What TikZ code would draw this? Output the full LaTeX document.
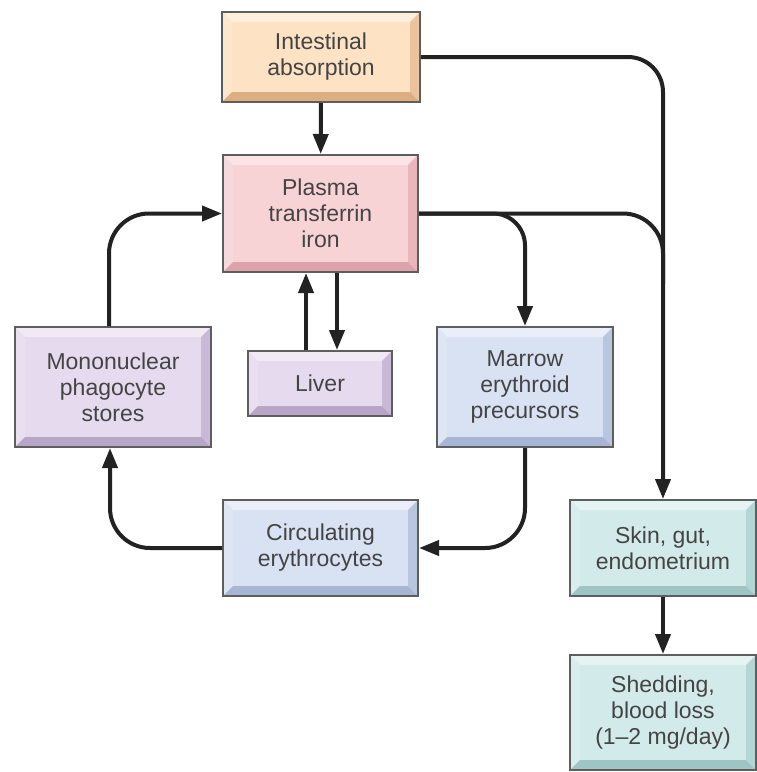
\documentclass[tikz,border=0pt]{standalone}
\usepackage{fontspec}
\setmainfont{Liberation Sans}
\usepackage{tikz}
\usetikzlibrary{arrows.meta}
\definecolor{boxline}{HTML}{5E5E5E}
\definecolor{boxtext}{HTML}{444444}
\definecolor{flowline}{HTML}{222222}
% face / top / left / right / bottom of each bevelled box
\definecolor{orangeface}{HTML}{FDE2C4}\definecolor{orangetop}{HTML}{FEEEDC}
\definecolor{orangeleft}{HTML}{FBE6CE}\definecolor{orangeside}{HTML}{EBC49E}
\definecolor{orangebottom}{HTML}{DDAE80}
\definecolor{pinkface}{HTML}{F8D3D6}\definecolor{pinktop}{HTML}{FCE4E6}
\definecolor{pinkleft}{HTML}{F6D9DC}\definecolor{pinkside}{HTML}{E8B6BB}
\definecolor{pinkbottom}{HTML}{DCA3AA}
\definecolor{purpleface}{HTML}{E6DAEE}\definecolor{purpletop}{HTML}{F1EAF5}
\definecolor{purpleleft}{HTML}{E9DFF0}\definecolor{purpleside}{HTML}{C9B9D7}
\definecolor{purplebottom}{HTML}{B8A6C8}
\definecolor{blueface}{HTML}{D9E2F3}\definecolor{bluetop}{HTML}{E9EEF8}
\definecolor{blueleft}{HTML}{DEE6F4}\definecolor{blueside}{HTML}{B8C6E0}
\definecolor{bluebottom}{HTML}{A7B6D5}
\definecolor{tealface}{HTML}{D3EAEA}\definecolor{tealtop}{HTML}{E5F3F3}
\definecolor{tealleft}{HTML}{D8EDED}\definecolor{tealside}{HTML}{B3D5D4}
\definecolor{tealbottom}{HTML}{9EC5C4}
\tikzset{
  box_node/.style = {align=center, inner sep=0pt, text centered,
    draw=boxline, line width=2pt, text=boxtext,
    font=\fontsize{23}{26}\selectfont},% boite de base
  bevel/.style = {fill=#1face, path picture={
      \def\pb{path picture bounding box}
      \fill[#1top] (\pb.north west) -- (\pb.north east)
        -- ([shift={(-10pt,-10pt)}]\pb.north east)
        -- ([shift={(10pt,-10pt)}]\pb.north west) -- cycle;
      \fill[#1left] (\pb.north west) -- ([shift={(10pt,-10pt)}]\pb.north west)
        -- ([shift={(10pt,10pt)}]\pb.south west) -- (\pb.south west) -- cycle;
      \fill[#1side] (\pb.north east) -- (\pb.south east)
        -- ([shift={(-10pt,10pt)}]\pb.south east)
        -- ([shift={(-10pt,-10pt)}]\pb.north east) -- cycle;
      \fill[#1bottom] (\pb.south west) -- (\pb.south east)
        -- ([shift={(-10pt,10pt)}]\pb.south east)
        -- ([shift={(10pt,10pt)}]\pb.south west) -- cycle;
    }},% relief de la boite
  link/.style = {line width=4pt, draw=flowline},% trait simple
  flow/.style = {link, -{Triangle[length=20pt,width=15pt]}}% trait avec fleche
}

\begin{document}
\begin{tikzpicture}[x=1pt, y=-1pt]
    \useasboundingbox (0,0) rectangle (756,772);
    \node [box_node, bevel=orange, minimum width=198pt, minimum height=90pt]
      (intestinal) at (321,57) {Intestinal\\absorption};
    \node [box_node, bevel=pink, minimum width=195pt, minimum height=117pt]
      (plasma) at (320.5,213.5) {Plasma\\transferrin\\iron};
    \node [box_node, bevel=purple, minimum width=196pt, minimum height=120pt]
      (mono) at (113,387) {Mononuclear\\phagocyte\\stores};
    \node [box_node, bevel=purple, minimum width=144pt, minimum height=65pt]
      (liver) at (320,383.5) {Liver};
    \node [box_node, bevel=blue, minimum width=176pt, minimum height=120pt]
      (marrow) at (525,387) {Marrow\\erythroid\\precursors};
    \node [box_node, bevel=blue, minimum width=195pt, minimum height=96pt]
      (circ) at (320.5,548) {Circulating\\erythrocytes};
    \node [box_node, bevel=teal, minimum width=186pt, minimum height=96pt]
      (skin) at (663,548) {Skin, gut,\\endometrium};
    \node [box_node, bevel=teal, minimum width=186pt, minimum height=115pt]
      (shedding) at (663,712.5) {Shedding,\\blood loss\\(1--2 mg/day)};

    \coordinate (merge) at ([yshift=-70pt]skin.north |- plasma.east);

    \draw [flow] (intestinal) -- (plasma);
    \draw [flow, rounded corners=35pt] (intestinal.east) -| (skin.north);
    \draw [link, rounded corners=40pt] (plasma.east) -| (merge);
    \draw [flow, rounded corners=32pt] (plasma.east) -| (marrow.north);
    \draw [flow] ([xshift=-14pt]liver.north) -- ([xshift=-14pt]liver.north |- plasma.south);
    \draw [flow] ([xshift=17pt]liver.north |- plasma.south) -- ([xshift=17pt]liver.north);
    \draw [flow, rounded corners=40pt] ([xshift=-4pt]mono.north) |- (plasma.west);
    \draw [flow, rounded corners=40pt] (marrow.south) |- (circ.east);
    \draw [flow, rounded corners=40pt] (circ.west) -| ([xshift=-3pt]mono.south);
    \draw [flow] (skin) -- (shedding);
  \end{tikzpicture}
\end{document}
